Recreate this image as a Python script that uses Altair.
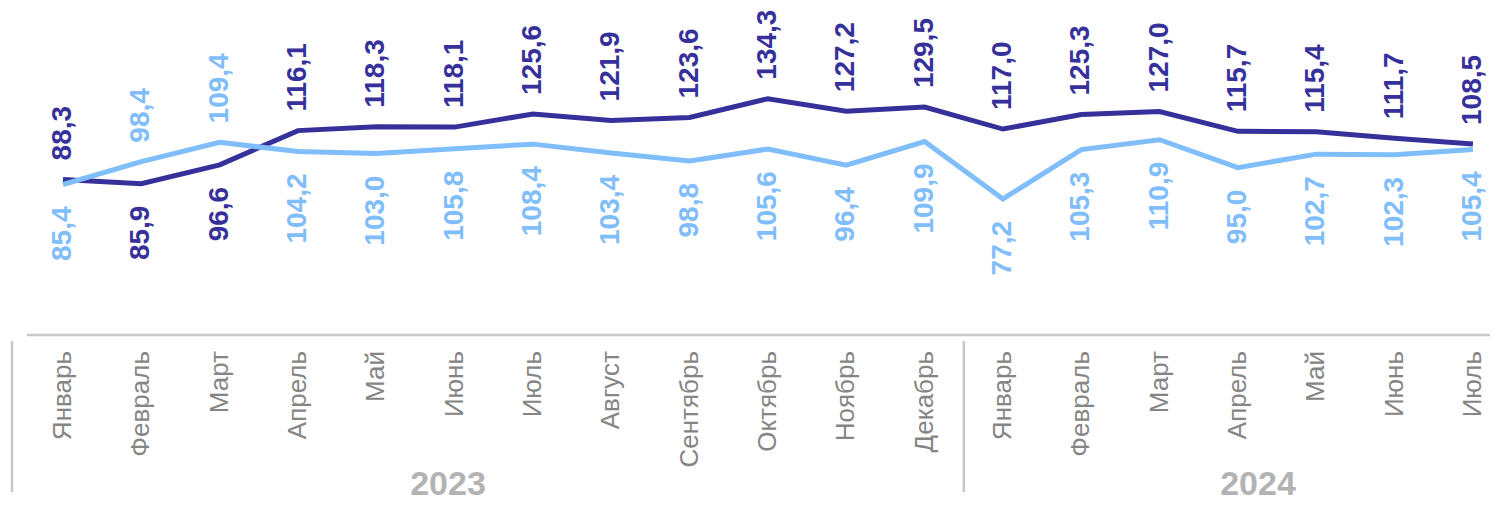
import altair as alt
import pandas as pd

months = ["Январь", "Февраль", "Март", "Апрель", "Май", "Июнь", "Июль", "Август",
          "Сентябрь", "Октябрь", "Ноябрь", "Декабрь",
          "Январь", "Февраль", "Март", "Апрель", "Май", "Июнь", "Июль"]
years = [2023] * 12 + [2024] * 7
dark_values = [88.3, 85.9, 96.6, 116.1, 118.3, 118.1, 125.6, 121.9, 123.6, 134.3, 127.2, 129.5,
               117.0, 125.3, 127.0, 115.7, 115.4, 111.7, 108.5]
light_values = [85.4, 98.4, 109.4, 104.2, 103.0, 105.8, 108.4, 103.4, 98.8, 105.6, 96.4, 109.9,
                77.2, 105.3, 110.9, 95.0, 102.7, 102.3, 105.4]
year_labels = ["2023", "2024"]

DARK = "#36309a"
LIGHT = "#7fbdfb"
FONT = "Liberation Sans, Arial"

rows = []
for i, m in enumerate(months):
    for name, vals, other in (("dark", dark_values, light_values), ("light", light_values, dark_values)):
        v = vals[i]
        rows.append({
            "idx": i, "series": name, "value": v,
            "label": f"{v:.1f}".replace(".", ","),
            "pos": "above" if v >= other[i] else "below",
        })
df = pd.DataFrame(rows)
mdf = pd.DataFrame({"idx": list(range(len(months))), "month": months, "year": years})

W, H = 1482, 495
xscale = alt.Scale(domain=[-0.7022, 18.218], nice=False, zero=False)
yscale = alt.Scale(domain=[-96.08, 185.97], nice=False, zero=False)
X = alt.X("idx:Q", scale=xscale, axis=None)
Y = alt.Y("value:Q", scale=yscale, axis=None)
color = alt.Color("series:N", scale=alt.Scale(domain=["dark", "light"], range=[DARK, LIGHT]), legend=None)

base = alt.Chart(df)

dark_line = base.transform_filter("datum.series == 'dark'").mark_line(strokeWidth=5, color=DARK).encode(x=X, y=Y)
light_line = base.transform_filter("datum.series == 'light'").mark_line(strokeWidth=5, color=LIGHT).encode(x=X, y=Y)

above = base.transform_filter("datum.pos == 'above'").mark_text(
    angle=270, align="left", baseline="middle", dx=19, font=FONT, fontSize=28, fontWeight="bold"
).encode(x=X, y=Y, text="label:N", color=color)
below = base.transform_filter("datum.pos == 'below'").mark_text(
    angle=270, align="right", baseline="middle", dx=-22, font=FONT, fontSize=28, fontWeight="bold"
).encode(x=X, y=Y, text="label:N", color=color)

n = len(months)
axis_df = pd.DataFrame({"x1": [-0.46], "x2": [n - 0.5]})
axis_line = alt.Chart(axis_df).mark_rule(color="#c8c8c8", strokeWidth=2.5).encode(
    x=alt.X("x1:Q", scale=xscale, axis=None), x2="x2:Q", y=alt.value(327)
)

split = [i - 0.5 for i in range(1, n) if years[i] != years[i - 1]]
sep_df = pd.DataFrame({"x": [-0.651] + split})
separators = alt.Chart(sep_df).mark_rule(color="#c8c8c8", strokeWidth=2.5).encode(
    x=alt.X("x:Q", scale=xscale, axis=None), y=alt.value(333), y2=alt.value(484)
)

month_text = alt.Chart(mdf).mark_text(
    angle=270, align="right", baseline="middle", font=FONT, fontSize=26, color="#858585"
).encode(x=alt.X("idx:Q", scale=xscale, axis=None), y=alt.value(343), text="month:N")

year_df = pd.DataFrame({"year": year_labels, "px": [440, 1250]})
year_text = alt.Chart(year_df).mark_text(
    align="center", baseline="alphabetic", font=FONT, fontSize=34, fontWeight="bold", color="#b3b3b3"
).encode(x=alt.X("px:Q", scale=None), y=alt.value(487), text="year:N")

chart = alt.layer(
    axis_line, separators, month_text, year_text, dark_line, light_line, above, below
).properties(
    width=W, height=H, padding=0, autosize=alt.AutoSizeParams(type="none")
).configure_view(strokeWidth=0)

chart.save("out.html", embed_options={"renderer": "svg", "actions": False})
